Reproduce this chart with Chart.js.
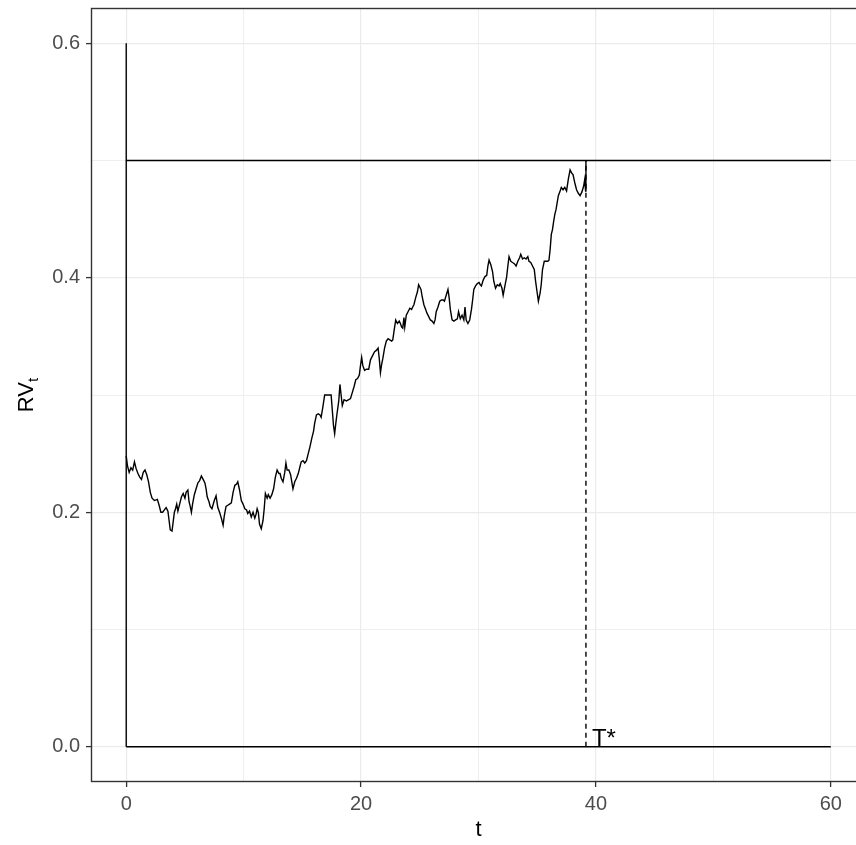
<!DOCTYPE html>
<html>
<head>
<meta charset="utf-8">
<script src="https://cdn.jsdelivr.net/npm/chart.js@4/dist/chart.umd.min.js"></script>
<style>
  html, body { margin: 0; padding: 0; background: #fff; overflow: hidden; }
  #wrap { width: 866px; height: 845px; }
</style>
</head>
<body>
<div id="wrap"><canvas id="c" width="866" height="845"></canvas></div>
<script>
// ---- data ----
const rvTime = [
  0.0,0.1,0.25,0.4,0.55,0.7,0.85,1.0,1.15,1.3,1.45,1.6,1.75,1.9,2.05,2.2,2.4,2.65,2.8,2.95,
  3.1,3.25,3.4,3.55,3.65,3.75,3.9,4.0,4.1,4.2,4.3,4.4,4.55,4.7,4.85,5.0,5.1,5.25,5.35,5.45,
  5.55,5.65,5.8,5.95,6.1,6.25,6.4,6.55,6.7,6.8,6.9,7.05,7.15,7.3,7.5,7.65,7.8,7.95,
  8.1,8.25,8.35,8.5,8.65,8.8,8.95,9.1,9.25,9.4,9.5,9.65,9.8,9.95,10.1,10.25,10.35,10.5,10.65,10.8,
  10.95,11.05,11.15,11.25,11.35,11.5,11.65,11.75,11.85,12.0,12.1,12.25,12.4,12.55,12.7,12.85,13.0,13.1,13.2,13.35,
  13.5,13.6,13.7,13.85,14.0,14.1,14.2,14.35,14.5,14.65,14.8,14.9,15.05,15.2,15.35,15.5,15.65,15.8,15.95,
  16.05,16.2,16.35,16.5,16.6,16.75,16.9,17.1,17.3,17.45,17.55,17.65,17.75,17.85,17.95,18.1,18.2,18.3,18.4,18.55,
  18.75,18.95,19.1,19.25,19.4,19.55,19.7,19.85,19.95,20.05,20.15,20.3,20.45,20.65,20.8,21.0,21.15,21.3,21.45,21.55,
  21.65,21.75,21.85,22.0,22.15,22.3,22.45,22.6,22.7,22.8,22.95,23.1,23.25,23.35,23.45,23.55,23.65,23.72,23.85,24.0,
  24.15,24.3,24.4,24.5,24.65,24.8,24.9,25.1,25.2,25.35,25.5,25.6,25.75,25.9,26.05,26.2,26.3,26.4,26.55,26.7,
  26.85,27.0,27.1,27.25,27.4,27.5,27.6,27.75,27.9,28.05,28.2,28.3,28.45,28.6,28.75,28.85,28.95,29.1,29.25,29.4,
  29.5,29.6,29.75,29.9,30.05,30.15,30.25,30.4,30.55,30.7,30.8,30.9,31.05,31.2,31.3,31.45,31.6,31.75,31.85,32.0,32.1,
  32.25,32.4,32.5,32.6,32.75,32.9,33.05,33.2,33.35,33.5,33.6,33.75,33.9,34.05,34.2,34.3,34.45,34.6,34.75,34.85,
  35.0,35.1,35.25,35.35,35.45,35.6,35.75,35.9,36.0,36.1,36.2,36.3,36.4,36.5,36.6,36.7,36.8,36.95,37.05,37.2,
  37.35,37.5,37.65,37.8,37.95,38.05,38.2,38.35,38.5,38.65,38.8,38.95,39.05,39.12,39.15
];
const rvValue = [
  0.248,0.240,0.234,0.238,0.236,0.243,0.237,0.233,0.230,0.228,0.234,0.236,0.232,0.226,0.217,0.212,0.210,0.211,0.206,0.200,
  0.200,0.202,0.204,0.201,0.193,0.185,0.184,0.192,0.200,0.203,0.207,0.201,0.207,0.213,0.216,0.212,0.217,0.219,0.209,0.205,
  0.200,0.207,0.215,0.220,0.225,0.227,0.231,0.228,0.225,0.220,0.213,0.209,0.205,0.203,0.210,0.214,0.204,0.200,
  0.195,0.189,0.197,0.205,0.206,0.207,0.208,0.217,0.223,0.224,0.226,0.219,0.210,0.207,0.203,0.202,0.199,0.201,0.196,0.200,
  0.195,0.198,0.203,0.200,0.190,0.186,0.193,0.203,0.216,0.212,0.215,0.212,0.215,0.220,0.230,0.236,0.233,0.233,0.229,0.226,
  0.234,0.242,0.236,0.236,0.232,0.226,0.220,0.226,0.229,0.233,0.239,0.243,0.244,0.242,0.244,0.250,0.256,0.263,0.269,
  0.276,0.283,0.284,0.283,0.281,0.290,0.300,0.300,0.300,0.300,0.287,0.274,0.267,0.276,0.284,0.295,0.309,0.300,0.291,0.296,
  0.295,0.296,0.297,0.302,0.307,0.313,0.314,0.317,0.325,0.332,0.325,0.321,0.322,0.322,0.330,0.334,0.337,0.338,0.340,0.331,
  0.319,0.326,0.331,0.340,0.346,0.348,0.347,0.346,0.347,0.354,0.364,0.361,0.363,0.361,0.358,0.357,0.366,0.358,0.368,0.371,
  0.374,0.373,0.375,0.377,0.383,0.388,0.394,0.390,0.384,0.377,0.373,0.370,0.367,0.364,0.363,0.361,0.364,0.371,0.375,0.380,
  0.381,0.381,0.380,0.385,0.390,0.383,0.373,0.364,0.363,0.364,0.365,0.371,0.365,0.368,0.364,0.375,0.364,0.361,0.364,0.373,
  0.381,0.390,0.393,0.395,0.396,0.394,0.393,0.398,0.401,0.402,0.410,0.415,0.411,0.405,0.397,0.391,0.394,0.393,0.395,0.391,0.385,
  0.393,0.401,0.410,0.418,0.414,0.413,0.412,0.410,0.414,0.417,0.420,0.416,0.417,0.416,0.418,0.414,0.413,0.410,0.407,0.398,
  0.387,0.380,0.387,0.395,0.407,0.414,0.414,0.414,0.415,0.424,0.437,0.441,0.448,0.454,0.458,0.464,0.470,0.474,0.477,0.475,
  0.477,0.474,0.484,0.492,0.489,0.488,0.481,0.475,0.472,0.470,0.473,0.478,0.484,0.474,0.500
];
const tStar = 39.15;          // stopping time
const upperBarrier = 0.5;     // upper horizontal line
const lowerBarrier = 0.0;     // lower horizontal line
const verticalTop = 0.6;      // top of the vertical line at t = 0
const tEnd = 60;              // end of horizontal lines
const starLabel = 'T*';
const xTickValues = [0, 10, 20, 30, 40, 50, 60];
const xTickLabels = { 0: '0', 20: '20', 40: '40', 60: '60' };
const yTickValues = [0, 0.1, 0.2, 0.3, 0.4, 0.5, 0.6];
const yTickLabels = { '0.0': '0.0', '0.2': '0.2', '0.4': '0.4', '0.6': '0.6' };
const xTitle = 't';
const yTitleMain = 'RV';
const yTitleSub = 't';

// ---- chart ----
const FONT = '"Liberation Sans", Arial, sans-serif';
const pts = (xs, ys) => xs.map((x, i) => ({ x: x, y: ys[i] }));
const isMajorX = v => Object.prototype.hasOwnProperty.call(xTickLabels, String(Math.round(v)));
const yKey = v => (Math.round(v * 10) / 10).toFixed(1);
const isMajorY = v => Object.prototype.hasOwnProperty.call(yTickLabels, yKey(v));

const lineStyle = { borderColor: '#000000', borderWidth: 1.4, pointRadius: 0, fill: false, tension: 0 };

const decorPlugin = {
  id: 'decor',
  afterDatasetsDraw(chart) {
    const { ctx, chartArea: a, scales } = chart;
    ctx.save();
    // panel border
    ctx.strokeStyle = '#333333';
    ctx.lineWidth = 1.4;
    ctx.strokeRect(a.left + 0.5, a.top + 0.5, a.right - a.left - 1, a.bottom - a.top - 1);
    // T* label
    ctx.fillStyle = '#000000';
    ctx.font = '24px ' + FONT;
    ctx.textAlign = 'left';
    ctx.textBaseline = 'alphabetic';
    ctx.fillText(starLabel, scales.x.getPixelForValue(tStar) + 6, scales.y.getPixelForValue(lowerBarrier) - 1);
    ctx.restore();
  },
  afterDraw(chart) {
    const { ctx, chartArea: a } = chart;
    ctx.save();
    ctx.fillStyle = '#000000';
    // x title
    ctx.font = '22px ' + FONT;
    ctx.textAlign = 'center';
    ctx.textBaseline = 'middle';
    ctx.fillText(xTitle, (a.left + a.right) / 2, 830);
    // y title with subscript
    ctx.translate(25, (a.top + a.bottom) / 2);
    ctx.rotate(-Math.PI / 2);
    ctx.font = '22px ' + FONT;
    const w1 = ctx.measureText(yTitleMain).width;
    ctx.font = '15px ' + FONT;
    const w2 = ctx.measureText(yTitleSub).width;
    const start = -(w1 + w2) / 2;
    ctx.textAlign = 'left';
    ctx.textBaseline = 'alphabetic';
    ctx.font = '22px ' + FONT;
    ctx.fillText(yTitleMain, start, 8);
    ctx.font = '15px ' + FONT;
    ctx.fillText(yTitleSub, start + w1, 13);
    ctx.restore();
  }
};

new Chart(document.getElementById('c'), {
  type: 'line',
  data: {
    datasets: [
      Object.assign({ data: pts(rvTime, rvValue) }, lineStyle),
      Object.assign({ data: pts([0, 0], [lowerBarrier, verticalTop]) }, lineStyle),
      Object.assign({ data: pts([0, tEnd], [upperBarrier, upperBarrier]) }, lineStyle),
      Object.assign({ data: pts([0, tEnd], [lowerBarrier, lowerBarrier]) }, lineStyle),
      Object.assign({ data: pts([tStar, tStar], [lowerBarrier, upperBarrier]) }, lineStyle, { borderDash: [5, 4] })
    ]
  },
  options: {
    responsive: false,
    animation: false,
    devicePixelRatio: 1,
    layout: { padding: { top: 8, right: 0, left: 0, bottom: 0 } },
    plugins: { legend: { display: false }, tooltip: { enabled: false } },
    scales: {
      x: {
        type: 'linear',
        min: -3, max: 63,
        afterBuildTicks: s => { s.ticks = xTickValues.map(v => ({ value: v })); },
        afterFit: s => { s.height = 63; s.paddingLeft = 0; s.paddingRight = 0; },
        border: { display: false },
        grid: {
          color: '#EBEBEB',
          lineWidth: c => (c.tick && isMajorX(c.tick.value)) ? 1.2 : 0.8,
          tickColor: c => (c.tick && isMajorX(c.tick.value)) ? '#333333' : 'rgba(0,0,0,0)',
          tickLength: 5,
          tickWidth: 1.3
        },
        ticks: {
          autoSkip: false,
          maxRotation: 0,
          padding: 5,
          color: '#4D4D4D',
          font: { family: FONT, size: 20 },
          callback: v => isMajorX(v) ? xTickLabels[String(Math.round(v))] : ''
        }
      },
      y: {
        type: 'linear',
        min: -0.03, max: 0.63,
        afterBuildTicks: s => { s.ticks = yTickValues.map(v => ({ value: v })); },
        afterFit: s => { s.width = 91; s.paddingTop = 0; s.paddingBottom = 0; },
        border: { display: false },
        grid: {
          color: '#EBEBEB',
          lineWidth: c => (c.tick && isMajorY(c.tick.value)) ? 1.2 : 0.8,
          tickColor: c => (c.tick && isMajorY(c.tick.value)) ? '#333333' : 'rgba(0,0,0,0)',
          tickLength: 5,
          tickWidth: 1.3
        },
        ticks: {
          autoSkip: false,
          padding: 6,
          color: '#4D4D4D',
          font: { family: FONT, size: 20 },
          callback: v => isMajorY(v) ? yTickLabels[yKey(v)] : ''
        }
      }
    }
  },
  plugins: [decorPlugin]
});
</script>
</body>
</html>
